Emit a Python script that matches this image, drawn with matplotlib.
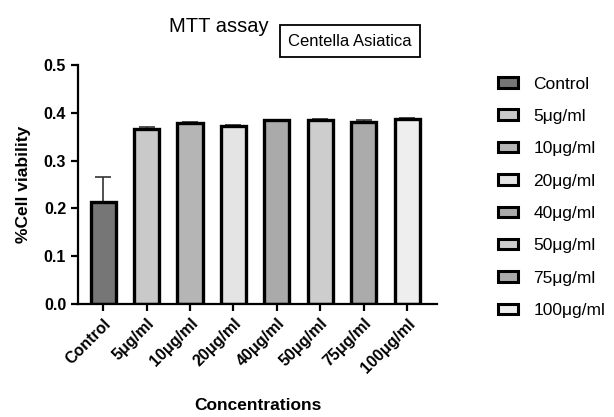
import matplotlib
matplotlib.use("Agg")
import matplotlib.pyplot as plt
from matplotlib.patches import Patch

plt.rcParams['font.family'] = ['Liberation Sans', 'DejaVu Sans']

# Data
categories = ['Control', '5μg/ml', '10μg/ml', '20μg/ml', '40μg/ml', '50μg/ml', '75μg/ml', '100μg/ml']
viability = [0.214, 0.367, 0.379, 0.372, 0.384, 0.384, 0.381, 0.388]
errors = [0.052, 0.003, 0.002, 0.002, 0.002, 0.004, 0.003, 0.002]
colors = ['#767676', '#c9c9c9', '#b5b5b5', '#e4e4e4', '#aaaaaa', '#cdcdcd', '#ababab', '#eeeeee']

fig = plt.figure(figsize=(6.14, 4.17), dpi=100)
ax = fig.add_axes([0.127, 0.271, 0.585, 0.573])

x = range(len(categories))
ax.bar(x, viability, width=0.58, color=colors, edgecolor='black', linewidth=2.4, zorder=2)
ax.errorbar(x, viability, yerr=[[0] * len(errors), errors], fmt='none', ecolor='#333333',
            elinewidth=1.2, capsize=5.5, capthick=1.2, zorder=1)

ax.set_xlim(-0.58, 7.69)
ax.set_ylim(0, 0.5)
ax.set_yticks([0.0, 0.1, 0.2, 0.3, 0.4, 0.5])
ax.set_yticklabels(['0.0', '0.1', '0.2', '0.3', '0.4', '0.5'], fontweight='bold', fontsize=11.5)
ax.set_xticks(list(x))
ax.set_xticklabels(categories, rotation=45, ha='right', rotation_mode='anchor',
                   fontweight='bold', fontsize=11.5)

for s in ['top', 'right']:
    ax.spines[s].set_visible(False)
for s in ['left', 'bottom']:
    ax.spines[s].set_linewidth(1.6)
ax.tick_params(axis='both', direction='out', length=5, width=1.6)

ax.set_ylabel('%Cell viability', fontweight='bold', fontsize=12.5, labelpad=9)
ax.set_xlabel('Concentrations', fontweight='bold', fontsize=12.5, labelpad=16)

fig.text(219 / 614, 1 - 27 / 417, 'MTT assay', ha='center', va='center', fontsize=14.5)
fig.text(350 / 614, 1 - 41 / 417, 'Centella Asiatica', ha='center', va='center', fontsize=12,
         bbox=dict(boxstyle='square,pad=0.5', facecolor='white', edgecolor='black', linewidth=1.3))

handles = [Patch(facecolor=c, edgecolor='black', linewidth=2.2) for c in colors]
fig.legend(handles, categories, loc='upper left', bbox_to_anchor=(0.785, 0.854),
           frameon=False, fontsize=12.5, handlelength=1.2, handleheight=0.55,
           labelspacing=1.0, handletextpad=0.85)

fig.savefig('out.png', dpi=100)
